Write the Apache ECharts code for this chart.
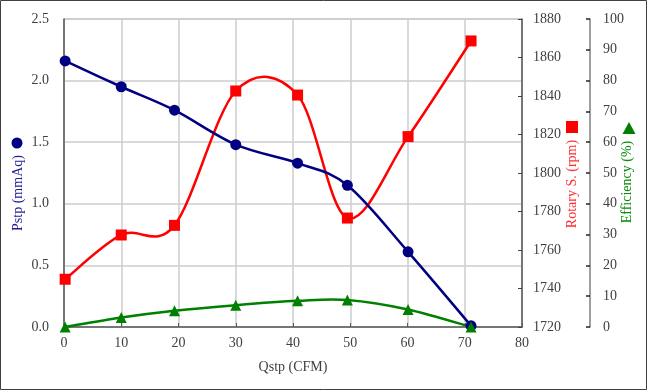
<!DOCTYPE html>
<html>
<head>
<meta charset="utf-8">
<script src="https://cdn.jsdelivr.net/npm/echarts@6/dist/echarts.min.js"></script>
<style>
html,body{margin:0;padding:0;background:#fff;}
#c{width:647px;height:390px;}
</style>
</head>
<body>
<div id="c"></div>
<script>
// Data
const qstp = [0.2, 10.0, 19.3, 30.0, 40.8, 49.5, 60.1, 71.1];
const pstp = [2.16, 1.95, 1.76, 1.48, 1.33, 1.15, 0.61, 0.01];
const rpm = [1744.8, 1767.8, 1772.8, 1842.6, 1840.5, 1776.6, 1818.9, 1868.6];
const eff = [0, 3.1, 5.3, 7.1, 8.5, 8.8, 5.7, 0];
const xTicks = [0, 10, 20, 30, 40, 50, 60, 70, 80];

const FONT = 'Liberation Serif';
const pair = (xs, ys) => xs.map((x, i) => [x, ys[i]]);

// Spline (Catmull-Rom style, like a spreadsheet's smoothed line) drawn segment by segment
// with pixel positions obtained from the chart's own axes via api.coord.
function splineSeries(ys, yAxisIndex, color, z) {
  const n = qstp.length;
  return {
    type: 'custom', coordinateSystem: 'cartesian2d', yAxisIndex: yAxisIndex, z: z, silent: true,
    data: pair(qstp, ys),
    clip: false,
    renderItem: function (params, api) {
      const i = params.dataIndex;
      if (i >= n - 1) return null;
      const P = j => api.coord([qstp[Math.max(0, Math.min(n - 1, j))], ys[Math.max(0, Math.min(n - 1, j))]]);
      const p0 = P(i - 1), p1 = P(i), p2 = P(i + 1), p3 = P(i + 2);
      const c1 = [p1[0] + (p2[0] - p0[0]) / 6, p1[1] + (p2[1] - p0[1]) / 6];
      const c2 = [p2[0] - (p3[0] - p1[0]) / 6, p2[1] - (p3[1] - p1[1]) / 6];
      return {
        type: 'bezierCurve',
        shape: {x1: p1[0], y1: p1[1], x2: p2[0], y2: p2[1], cpx1: c1[0], cpy1: c1[1], cpx2: c2[0], cpy2: c2[1]},
        style: {stroke: color, lineWidth: 2.5, fill: null, lineCap: 'round'}
      };
    }
  };
}

function markerSeries(ys, yAxisIndex, color, symbol, size, z) {
  return {
    type: 'line', yAxisIndex: yAxisIndex, data: pair(qstp, ys),
    symbol: symbol, symbolSize: size, showSymbol: true,
    lineStyle: {opacity: 0}, itemStyle: {color: color}, z: z
  };
}

const chart = echarts.init(document.getElementById('c'), null, {renderer: 'canvas'});
chart.setOption({
  animation: false,
  backgroundColor: '#fff',
  textStyle: {fontFamily: FONT},
  grid: {left: 64, right: 125, top: 19, bottom: 63, show: true, borderColor: '#a6a6a6', borderWidth: 1},
  xAxis: {
    type: 'value', min: xTicks[0], max: xTicks[xTicks.length - 1], interval: 10,
    name: 'Qstp (CFM)', nameLocation: 'middle', nameGap: 33,
    nameTextStyle: {fontFamily: FONT, fontSize: 14, color: '#404040'},
    axisLine: {lineStyle: {color: '#595959', width: 1.5}},
    axisTick: {inside: true, length: 4, lineStyle: {color: '#595959'}},
    axisLabel: {fontFamily: FONT, fontSize: 14, color: '#404040', margin: 9},
    splitLine: {show: true, lineStyle: {color: '#cccccc', width: 1.5}}
  },
  yAxis: [
    {
      type: 'value', min: 0, max: 2.5, interval: 0.5, position: 'left',
      axisLine: {show: true, lineStyle: {color: '#595959', width: 1.5}},
      axisTick: {show: false},
      axisLabel: {fontFamily: FONT, fontSize: 14, color: '#404040', margin: 15, formatter: v => v.toFixed(1)},
      splitLine: {show: true, lineStyle: {color: '#cccccc', width: 1.5}}
    },
    {
      type: 'value', min: 1720, max: 1880, interval: 20, position: 'right',
      axisLine: {show: true, lineStyle: {color: '#595959', width: 1.5}},
      axisTick: {show: true, inside: true, length: 4, lineStyle: {color: '#404040'}},
      axisLabel: {fontFamily: FONT, fontSize: 14, color: '#404040', margin: 11, formatter: v => String(v)},
      splitLine: {show: false}
    },
    {
      type: 'value', min: 0, max: 100, interval: 10, position: 'right', offset: 68,
      axisLine: {show: true, lineStyle: {color: '#7f7f7f', width: 1.5}},
      axisTick: {show: true, inside: true, length: 4, lineStyle: {color: '#262626', width: 1.5}},
      axisLabel: {fontFamily: FONT, fontSize: 14, color: '#404040', margin: 13, formatter: v => String(v)},
      splitLine: {show: false}
    }
  ],
  series: [
    splineSeries(rpm, 1, '#ff0000', 2),
    splineSeries(pstp, 0, '#000080', 3),
    splineSeries(eff, 2, '#008000', 4),
    markerSeries(rpm, 1, '#ff0000', 'rect', 11, 5),
    markerSeries(pstp, 0, '#000080', 'circle', 11, 6),
    markerSeries(eff, 2, '#008000', 'triangle', 11, 7)
  ],
  graphic: [
    {type: 'rect', shape: {x: 0.5, y: 0.5, width: 646, height: 389}, style: {fill: 'none', stroke: '#404040', lineWidth: 1}, silent: true},
    {type: 'text', x: 18, y: 193, rotation: Math.PI / 2,
     style: {text: 'Pstp (mmAq)', fontFamily: FONT, fontSize: 14, fill: '#1c1c8f', align: 'center', verticalAlign: 'middle'}},
    {type: 'circle', shape: {cx: 17, cy: 143, r: 5.5}, style: {fill: '#000080'}},
    {type: 'text', x: 572, y: 184, rotation: Math.PI / 2,
     style: {text: 'Rotary S. (rpm)', fontFamily: FONT, fontSize: 14, fill: '#ff3030', align: 'center', verticalAlign: 'middle'}},
    {type: 'rect', shape: {x: 566, y: 121, width: 12, height: 12}, style: {fill: '#ff0000'}},
    {type: 'text', x: 627, y: 182, rotation: Math.PI / 2,
     style: {text: 'Efficiency (%)', fontFamily: FONT, fontSize: 14, fill: '#0a8a0a', align: 'center', verticalAlign: 'middle'}},
    {type: 'polygon', shape: {points: [[629, 122], [635.5, 134], [622.5, 134]]}, style: {fill: '#008000'}}
  ]
});
</script>
</body>
</html>
